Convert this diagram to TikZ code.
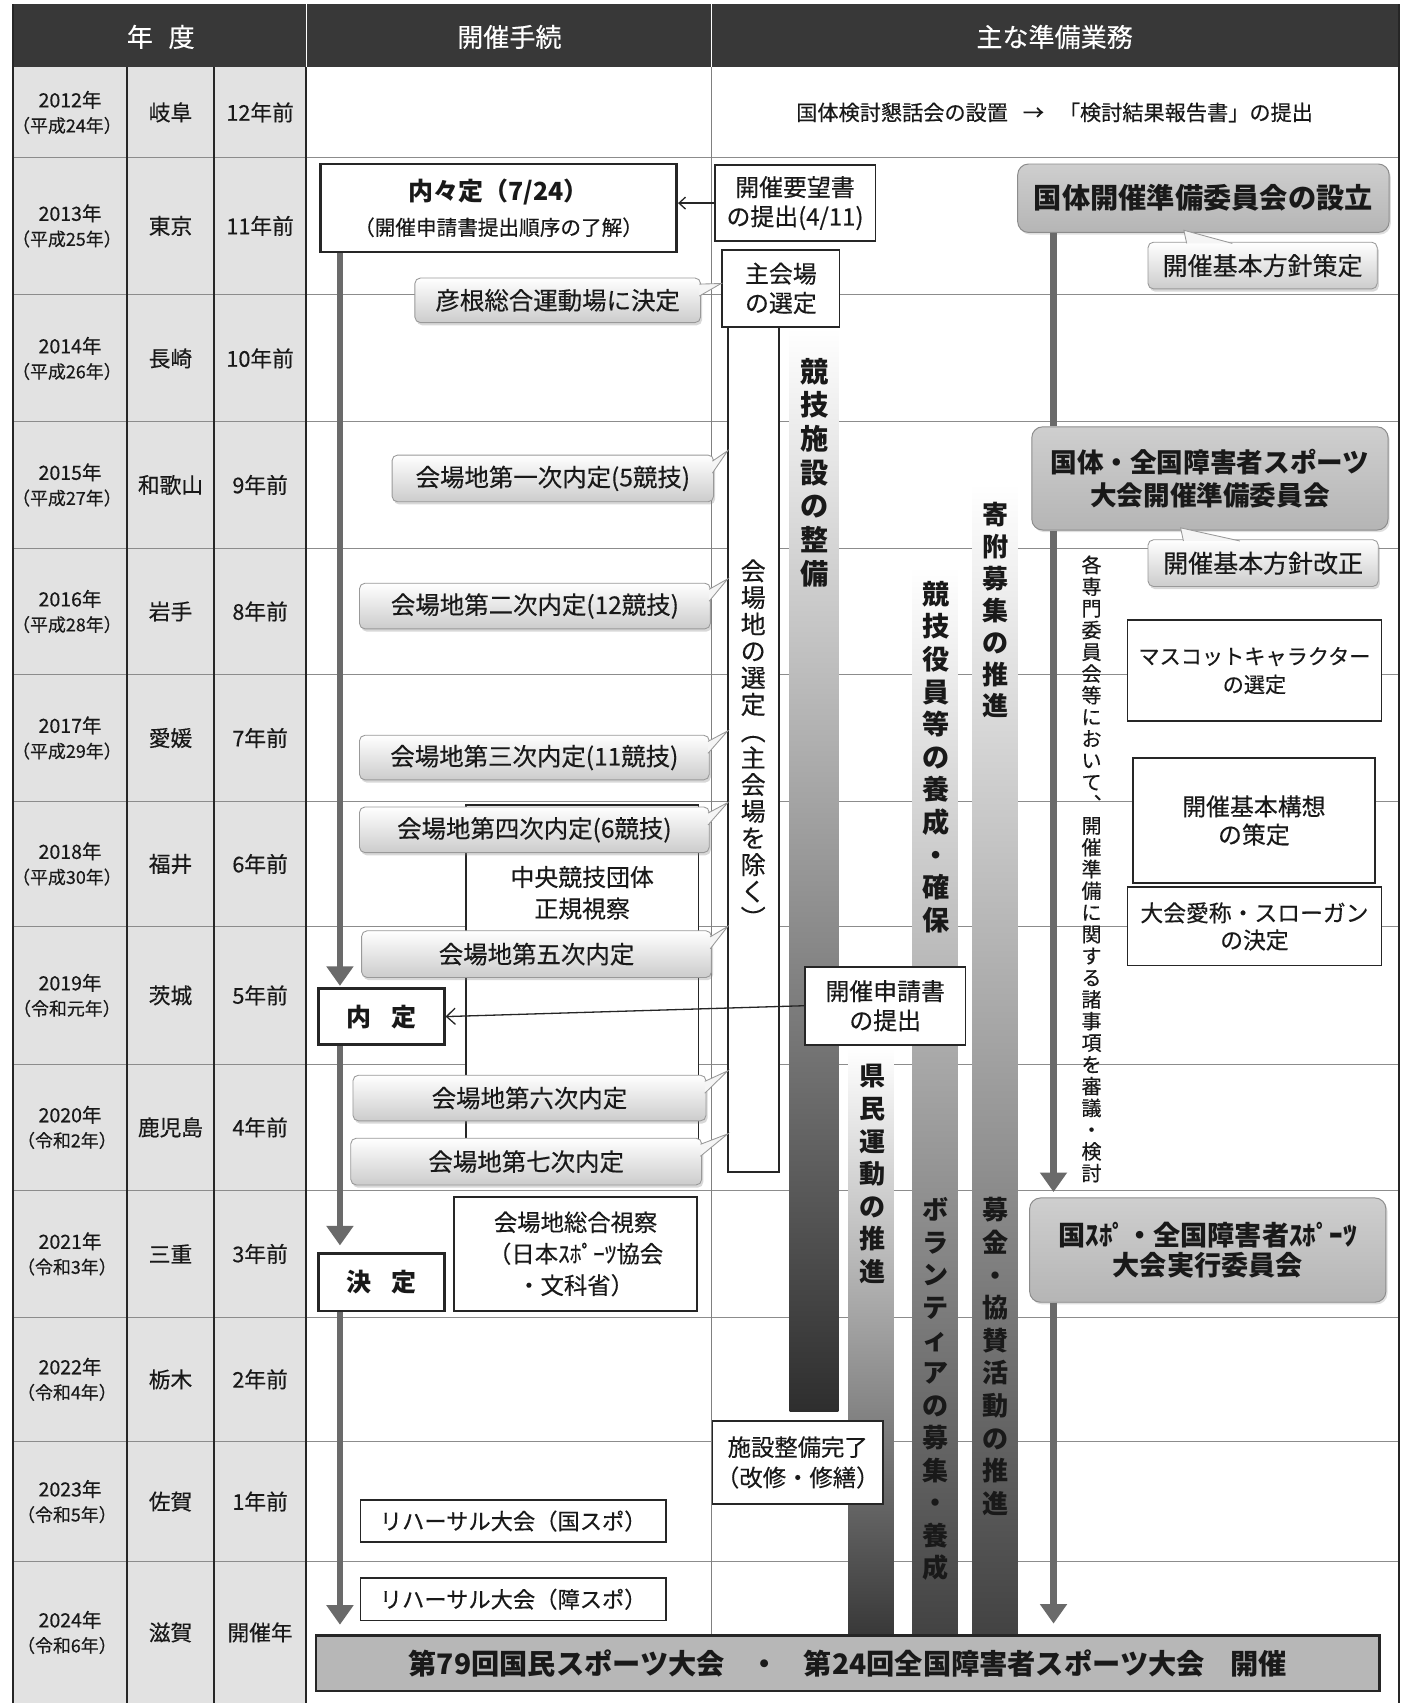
\documentclass[tikz,border=0pt]{standalone}
\usepackage{fontspec}
\setmainfont{Noto Sans CJK JP}[UprightFeatures={FakeBold=0.35}]
\usetikzlibrary{arrows.meta,calc,shadows}
\newcommand\fz[2]{\fontsize{#1pt}{#2pt}\selectfont\lineskiplimit=-50pt\relax}
\definecolor{hdr}{HTML}{383838}
\definecolor{colbg}{HTML}{E2E2E2}
\definecolor{bannerfill}{HTML}{B7B7B7}
\definecolor{arrowgray}{HTML}{6A6A6A}
\tikzset{
  box/.style={draw=black!85, line width=1.6pt, fill=white, align=center, inner sep=0pt, text=black!90},
  boldbox/.style={box, line width=2.6pt},
  callout/.style={draw=black!40, line width=0.8pt, rounded corners=5pt, top color=white, bottom color=black!20,
     align=center, inner sep=0pt, text=black!90, font={\fz{22.5}{26}},
     drop shadow={opacity=0.3, shadow xshift=1.5pt, shadow yshift=-2.5pt}},
  tail/.style={fill=black!4, draw=black!40, line width=0.8pt},
  committee/.style={draw=black!45, line width=0.9pt, rounded corners=10pt, top color=black!19, bottom color=black!29,
     align=center, inner sep=0pt, text=black!90,
     drop shadow={opacity=0.25, shadow xshift=1.5pt, shadow yshift=-2pt}},
  vtext/.style={align=center, inner sep=0pt, text=black!90},
  flowarrow/.style={draw=arrowgray, line width=6pt, -{Triangle[length=18pt,width=24pt]}},
  flowline/.style={draw=arrowgray, line width=6pt},
  thinarrow/.style={draw=black!85, line width=1.2pt, -{Straight Barb[length=8pt,width=15pt]}},
  rowline/.style={draw=black!45, line width=0.8pt},
  colline/.style={draw=black!85, line width=2.2pt},
  hdrtext/.style={text=white, font={\fz{24}{28}}},
  yeartxt/.style={align=center, inner sep=0pt, text=black!90},
  celltxt/.style={inner sep=0pt, text=black!90, font={\fz{20}{24}}}
}
\newcommand\calltail[2]{\filldraw[tail] ($(#1.north east)+(-1.5,6)$) -- (#2) -- ($(#1.north east)+(-1.5,17)$);}
\newcommand\uptail[4]{\filldraw[tail] ($(#1.north west)+(#3,1.5)$) -- (#2) -- ($(#1.north west)+(#4,1.5)$);}
\begin{document}
\begin{tikzpicture}[x=1pt,y=-1pt]
\useasboundingbox (0,0) rectangle (1295,1568);
\fill[white] (0,0) rectangle (1295,1568);
\fill[colbg] (12,62) rectangle (282,1568);
\fill[hdr] (12,4) rectangle (1288,62);
% row lines
\foreach \ry in {145,271,388,505,621,738,853,980,1096,1213,1327,1438}
  \draw[rowline] (12,\ry) -- (1288,\ry);
\draw[draw=black!50, line width=0.8pt] (655,62) -- (655,1505);
\foreach \cx in {117,197,282} \draw[colline] (\cx,62) -- (\cx,1568);
\draw[colline] (12,4) -- (12,1568);
\draw[colline, line width=1.6pt] (1288,4) -- (1288,1568);
\draw[white, line width=1.2pt] (282,4) -- (282,62);
\draw[white, line width=1.2pt] (655,4) -- (655,62);
% header
\node[hdrtext] (h1) at (148,34) {年\hspace{0.6em}度};
\node[hdrtext] (h2) at (469,34) {開催手続};
\node[hdrtext] (h3) at (971,34) {主な準備業務};
% years
\foreach \yc/\yr/\era/\pref/\bef [count=\i] in {103.5/2012/平成24/岐阜/12年前, 208/2013/平成25/東京/11年前,
   330/2014/平成26/長崎/10年前, 446.5/2015/平成27/和歌山/9年前, 563/2016/平成28/岩手/8年前,
   679.5/2017/平成29/愛媛/7年前, 795.5/2018/平成30/福井/6年前, 916.5/2019/令和元/茨城/5年前,
   1038/2020/令和2/鹿児島/4年前, 1154.5/2021/令和3/三重/3年前, 1270/2022/令和4/栃木/2年前,
   1382.5/2023/令和5/佐賀/1年前, 1503/2024/令和6/滋賀/開催年}{
  \node[yeartxt, font={\fz{18}{23}}] (yr\i) at (64.5,\yc) {\yr 年\\{\fz{16.5}{23}\hspace{-0.35em}（\era 年）\hspace{-0.35em}}};
  \node[celltxt] (pf\i) at (157,\yc) {\pref};
  \node[celltxt] (bf\i) at (239.5,\yc) {\bef};
}
% 2012 row text
\node[inner sep=0pt, text=black!90, font={\fz{19.5}{24}}] (r2012) at (971,103.5)
  {国体検討懇話会の設置\hspace{0.7em}→\hspace{0.7em}「検討結果報告書」の提出};
% gradient bars
\shade[top color=white, bottom color=black!82] (727,302) rectangle (772,1300);
\shade[top color=white, bottom color=black!78] (781,965) rectangle (823,1506);
\shade[top color=white, bottom color=black!74] (840,522) rectangle (882,1506);
\shade[top color=white, bottom color=black!74] (895,445) rectangle (937,1506);
% boxes in 開催手続
\node[box, minimum width=47pt, minimum height=778pt] (kaijochi) at (693.5,690) {};
\node[box, line width=1.3pt, minimum width=214pt, minimum height=339pt] (chuo) at (536,910.5) {};
\node[vtext, font={\fz{22}{29}}] (chuotxt) at (536,822) {中央競技団体\\正規視察};
\node[box, minimum width=108pt, minimum height=71pt, font={\fz{22}{27}}] (shukaijo) at (719,265.5) {主会場\\の選定};
\node[box, minimum width=148pt, minimum height=70pt, font={\fz{22}{27}}] (youbou) at (732,187) {開催要望書\\の提出(4/11)};
\node[boldbox, minimum width=328pt, minimum height=81pt, font={\fz{19}{32}}] (naina) at (459,191.5)
  {{\fz{23}{32}\bfseries 内々定（7/24）}\\（開催申請書提出順序の了解）};
\node[boldbox, minimum width=116pt, minimum height=52pt, font={\fz{23}{26}\bfseries}] (naitei) at (351,936) {内\hspace{0.8em}定};
\node[box, minimum width=148pt, minimum height=72pt, font={\fz{22}{27}}] (shinsei) at (815,926) {開催申請書\\の提出};
\node[boldbox, minimum width=116pt, minimum height=53pt, font={\fz{23}{26}\bfseries}] (kettei) at (351,1180.5) {決\hspace{0.8em}定};
\node[box, minimum width=224pt, minimum height=105pt, font={\fz{21.5}{29}}] (sogo) at (530,1154.5) {会場地総合視察\\（日本ｽﾎﾟｰﾂ協会\\・文科省）};
\node[box, minimum width=157pt, minimum height=77pt, font={\fz{21.5}{28}}] (shisetsu) at (734.5,1346.5) {施設整備完了\\（改修・修繕）};
\node[box, minimum width=281pt, minimum height=39pt, font={\fz{20.5}{24}}] (reh1) at (472.5,1400.5) {リハーサル大会（国スポ）};
\node[box, minimum width=281pt, minimum height=39pt, font={\fz{20.5}{24}}] (reh2) at (472.5,1472.5) {リハーサル大会（障スポ）};
\node[box, line width=2.2pt, fill=bannerfill, minimum width=979pt, minimum height=51pt, font={\fz{26}{30}\bfseries}] (banner) at (780.5,1531.5)
  {第79回国民スポーツ大会\hspace{0.9em}・\hspace{0.9em}第24回全国障害者スポーツ大会\hspace{0.9em}開催};
% callouts
\coordinate (tH) at (664,261);
\coordinate (t1) at (670,415);
\coordinate (t2) at (670,533);
\coordinate (t3) at (670,673);
\coordinate (t4) at (670,739);
\coordinate (t5) at (670,853);
\coordinate (t6) at (670,986);
\coordinate (t7) at (670,1044);
\node[callout, minimum width=263pt, minimum height=41pt] (hikone) at (513.5,276.5) {彦根総合運動場に決定};
\calltail{hikone}{tH}
\node[callout, minimum width=296pt, minimum height=43pt] (c1) at (509,440.5) {会場地第一次内定(5競技)};
\calltail{c1}{t1}
\node[callout, minimum width=323pt, minimum height=42pt] (c2) at (492.5,558) {会場地第二次内定(12競技)};
\calltail{c2}{t2}
\node[callout, minimum width=322pt, minimum height=41pt] (c3) at (492,697.5) {会場地第三次内定(11競技)};
\calltail{c3}{t3}
\node[callout, minimum width=322pt, minimum height=42pt] (c4) at (492,764) {会場地第四次内定(6競技)};
\calltail{c4}{t4}
\node[callout, minimum width=322pt, minimum height=43pt] (c5) at (494,878.5) {会場地第五次内定};
\calltail{c5}{t5}
\node[callout, minimum width=325pt, minimum height=42pt] (c6) at (487.5,1011) {会場地第六次内定};
\calltail{c6}{t6}
\node[callout, minimum width=323pt, minimum height=43pt] (c7) at (484.5,1069.5) {会場地第七次内定};
\calltail{c7}{t7}
% right column
\node[committee, minimum width=342pt, minimum height=63pt, font={\fz{26}{30}\bfseries}] (setsuritsu) at (1108,182.5) {国体開催準備委員会の設立};
\coordinate (tS) at (1090,212);
\node[callout, minimum width=211pt, minimum height=43pt, font={\fz{23}{26}}] (houshin1) at (1162.5,244.5) {開催基本方針策定};
\uptail{houshin1}{tS}{36}{78}
\node[committee, minimum width=328pt, minimum height=95pt, font={\fz{24.5}{30}\bfseries}] (junbi) at (1114,440.5) {国体・全国障害者スポーツ\\大会開催準備委員会};
\coordinate (tJ) at (1087,486);
\node[callout, minimum width=212pt, minimum height=43pt, font={\fz{23}{26}}] (houshin2) at (1163,518.5) {開催基本方針改正};
\uptail{houshin2}{tJ}{33}{85}
\node[box, minimum width=234pt, minimum height=93pt, font={\fz{19.5}{26}}] (mascot) at (1155,617.5) {マスコットキャラクター\\の選定};
\node[box, minimum width=223pt, minimum height=115pt, font={\fz{22}{26}}] (kousou) at (1154.5,755.5) {開催基本構想\\の策定};
\node[box, minimum width=234pt, minimum height=72pt, font={\fz{21}{25}}] (aisho) at (1155,853) {大会愛称・スローガン\\の決定};
\node[committee, minimum width=328pt, minimum height=96pt, font={\fz{25}{28}\bfseries}] (jikko) at (1112,1151) {国ｽﾎﾟ・全国障害者ｽﾎﾟｰﾂ\\大会実行委員会};
% vertical texts
\node[vtext, font={\fz{26}{31}\bfseries}] (vA) at (750,435) {競\\技\\施\\設\\の\\整\\備};
\node[vtext, font={\fz{23}{24.6}}] (vK) at (693.5,684.5) {会\\場\\地\\の\\選\\定\\︵\\主\\会\\場\\を\\除\\く\\︶};
\node[vtext, font={\fz{24}{29.3}\bfseries}] (vD1) at (917,562) {寄\\附\\募\\集\\の\\推\\進};
\node[vtext, font={\fz{25}{30}\bfseries}] (vC1) at (862,697) {競\\技\\役\\員\\等\\の\\養\\成\\・\\確\\保};
\node[vtext, font={\fz{24}{30}\bfseries}] (vB) at (803,1081) {県\\民\\運\\動\\の\\推\\進};
\node[vtext, font={\fz{24}{30}\bfseries}] (vC2) at (861,1279) {ボ\\ラ\\ン\\テ\\ィ\\ア\\の\\募\\集\\・\\養\\成};
\node[vtext, font={\fz{24}{30}\bfseries}] (vD2) at (917,1249) {募\\金\\・\\協\\賛\\活\\動\\の\\推\\進};
\node[vtext, font={\fz{18.5}{20}}] (vR) at (1005,800) {各\\専\\門\\委\\員\\会\\等\\に\\お\\い\\て\\︑\\開\\催\\準\\備\\に\\関\\す\\る\\諸\\事\\項\\を\\審\\議\\・\\検\\討};
% arrows
\coordinate (axL) at (313,0);
\coordinate (axR) at (970,0);
\draw[flowarrow, shorten >=1pt] (naina.south -| axL) -- (naitei.north -| axL);
\draw[flowarrow, shorten >=6pt] (naitei.south -| axL) -- (kettei.north -| axL);
\draw[flowarrow, shorten >=9pt] (kettei.south -| axL) -- (banner.north -| axL);
\draw[flowline] (setsuritsu.south -| axR) -- (junbi.north -| axR);
\draw[flowarrow, shorten >=5pt] (junbi.south -| axR) -- (jikko.north -| axR);
\draw[flowarrow, shorten >=10pt] (jikko.south -| axR) -- (banner.north -| axR);
\draw[thinarrow, -{Straight Barb[length=6pt,width=11pt]}] (youbou.west) -- (naina.east |- youbou.west);
\draw[thinarrow] (shinsei.west) -- (naitei.east);
\end{tikzpicture}
\end{document}
